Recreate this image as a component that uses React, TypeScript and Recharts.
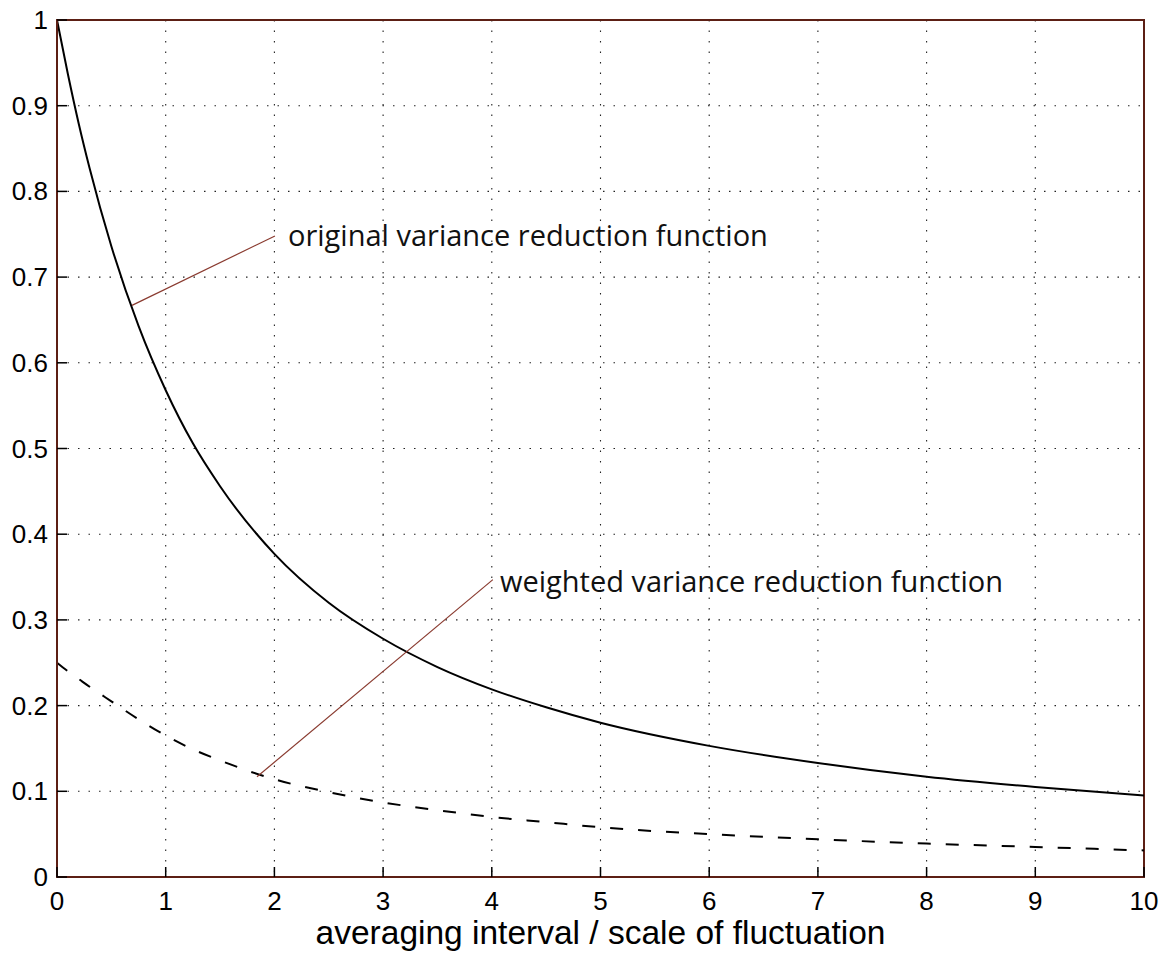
import React from 'react';
import {
  LineChart,
  Line,
  XAxis,
  YAxis,
  CartesianGrid,
  ReferenceLine,
  ReferenceDot,
  ReferenceArea,
} from 'recharts';

// values
const xValues = [0, 0.1, 0.2, 0.3, 0.5, 0.75, 1, 1.25, 1.5, 2, 2.5, 3, 3.5, 4, 4.5, 5, 6, 7, 8, 9, 10];
const originalVrf = [1, 0.937, 0.879, 0.827, 0.736, 0.643, 0.568, 0.506, 0.456, 0.377, 0.32, 0.278, 0.245, 0.219, 0.198, 0.18, 0.153, 0.133, 0.117, 0.105, 0.095];
const weightedVrf = [0.25, 0.24, 0.231, 0.222, 0.205, 0.184, 0.165, 0.149, 0.136, 0.114, 0.099, 0.087, 0.078, 0.07, 0.064, 0.058, 0.05, 0.044, 0.039, 0.035, 0.031];

const xTicks = [0, 1, 2, 3, 4, 5, 6, 7, 8, 9, 10];
const yTicks = [0, 0.1, 0.2, 0.3, 0.4, 0.5, 0.6, 0.7, 0.8, 0.9, 1];

const data = xValues.map((x, i) => ({ x, original: originalVrf[i], weighted: weightedVrf[i] }));

const BOX = '#5c1f14';
const NOTE = '#8a3b30';
const TICK_FONT = '"Liberation Sans", Arial, sans-serif';
const NOTE_FONT = '"Open Sans", "Noto Sans", sans-serif';

const XTick = (props: any) => {
  const { x, y, payload } = props;
  return (
    <g>
      <line x1={x} x2={x} y1={y - 12} y2={y - 22} stroke="#000" strokeWidth={1.5} />
      <text x={x} y={y} dy={21} textAnchor="middle" fontSize={26} fontFamily={TICK_FONT} fill="#000">
        {payload.value}
      </text>
    </g>
  );
};

const YTick = (props: any) => {
  const { x, y, payload } = props;
  return (
    <g>
      <line x1={x + 10} x2={x + 20} y1={y} y2={y} stroke="#000" strokeWidth={1.5} />
      <text x={x} y={y} dy={9} dx={1} textAnchor="end" fontSize={26} fontFamily={TICK_FONT} fill="#000">
        {payload.value}
      </text>
    </g>
  );
};

const TopTick = (props: any) => {
  const { x, y } = props;
  return <line x1={x} x2={x} y1={y} y2={y + 10} stroke="#000" strokeWidth={1.5} />;
};

const RightTick = (props: any) => {
  const { x, y } = props;
  return <line x1={x} x2={x - 10} y1={y} y2={y} stroke="#000" strokeWidth={1.5} />;
};

const NoteLabel = (text: string) => (props: any) => {
  const { viewBox } = props;
  return (
    <text x={viewBox.x + 6} y={viewBox.y} dy={10} fontSize={29} fontFamily={NOTE_FONT} fill="#111">
      {text}
    </text>
  );
};

export default function App() {
  return (
    <div style={{ width: 1167, height: 958, background: '#fff' }}>
      <style>{`body{margin:0}`}</style>
      <LineChart
        width={1167}
        height={958}
        data={data}
        margin={{ top: 20, right: 23, left: 0, bottom: 0 }}
      >
        <CartesianGrid stroke="#222" strokeDasharray="1.5 9" strokeWidth={1.1} />
        <XAxis
          dataKey="x"
          type="number"
          domain={[0, 10]}
          ticks={xTicks}
          height={81}
          tickLine={false}
          tickSize={0}
          tickMargin={12}
          axisLine={{ stroke: BOX, strokeWidth: 2 }}
          tick={<XTick />}
          label={{
            value: 'averaging interval / scale of fluctuation',
            position: 'insideBottom',
            offset: 14,
            fontSize: 33.5,
            fontFamily: TICK_FONT,
            fill: '#000',
          }}
        />
        <XAxis
          xAxisId="top"
          orientation="top"
          dataKey="x"
          type="number"
          domain={[0, 10]}
          ticks={xTicks}
          height={0}
          tickLine={false}
          tickSize={0}
          tickMargin={0}
          axisLine={false}
          tick={<TopTick />}
        />
        <YAxis
          type="number"
          domain={[0, 1]}
          ticks={yTicks}
          width={57}
          tickLine={false}
          tickSize={0}
          tickMargin={10}
          axisLine={{ stroke: BOX, strokeWidth: 2 }}
          tick={<YTick />}
        />
        <YAxis
          yAxisId="right"
          orientation="right"
          type="number"
          domain={[0, 1]}
          ticks={yTicks}
          width={0}
          tickLine={false}
          tickSize={0}
          tickMargin={0}
          axisLine={false}
          tick={<RightTick />}
        />
        <ReferenceArea x1={0} x2={10} y1={0} y2={1} fill="none" stroke={BOX} strokeWidth={2} ifOverflow="visible" />
        <Line
          type="monotone"
          dataKey="original"
          stroke="#000"
          strokeWidth={2}
          dot={false}
          isAnimationActive={false}
        />
        <Line
          type="monotone"
          dataKey="weighted"
          stroke="#000"
          strokeWidth={2}
          strokeDasharray="13 15"
          dot={false}
          isAnimationActive={false}
        />
        <ReferenceLine
          segment={[{ x: 0.69, y: 0.667 }, { x: 2.005, y: 0.748 }]}
          stroke={NOTE}
          strokeWidth={1.2}
          ifOverflow="visible"
        />
        <ReferenceLine
          segment={[{ x: 1.84, y: 0.117 }, { x: 4.01, y: 0.347 }]}
          stroke={NOTE}
          strokeWidth={1.2}
          ifOverflow="visible"
        />
        <ReferenceDot
          x={2.07}
          y={0.748}
          r={0}
          fill="none"
          stroke="none"
          label={NoteLabel('original variance reduction function')}
        />
        <ReferenceDot
          x={4.02}
          y={0.344}
          r={0}
          fill="none"
          stroke="none"
          label={NoteLabel('weighted variance reduction function')}
        />
      </LineChart>
    </div>
  );
}
